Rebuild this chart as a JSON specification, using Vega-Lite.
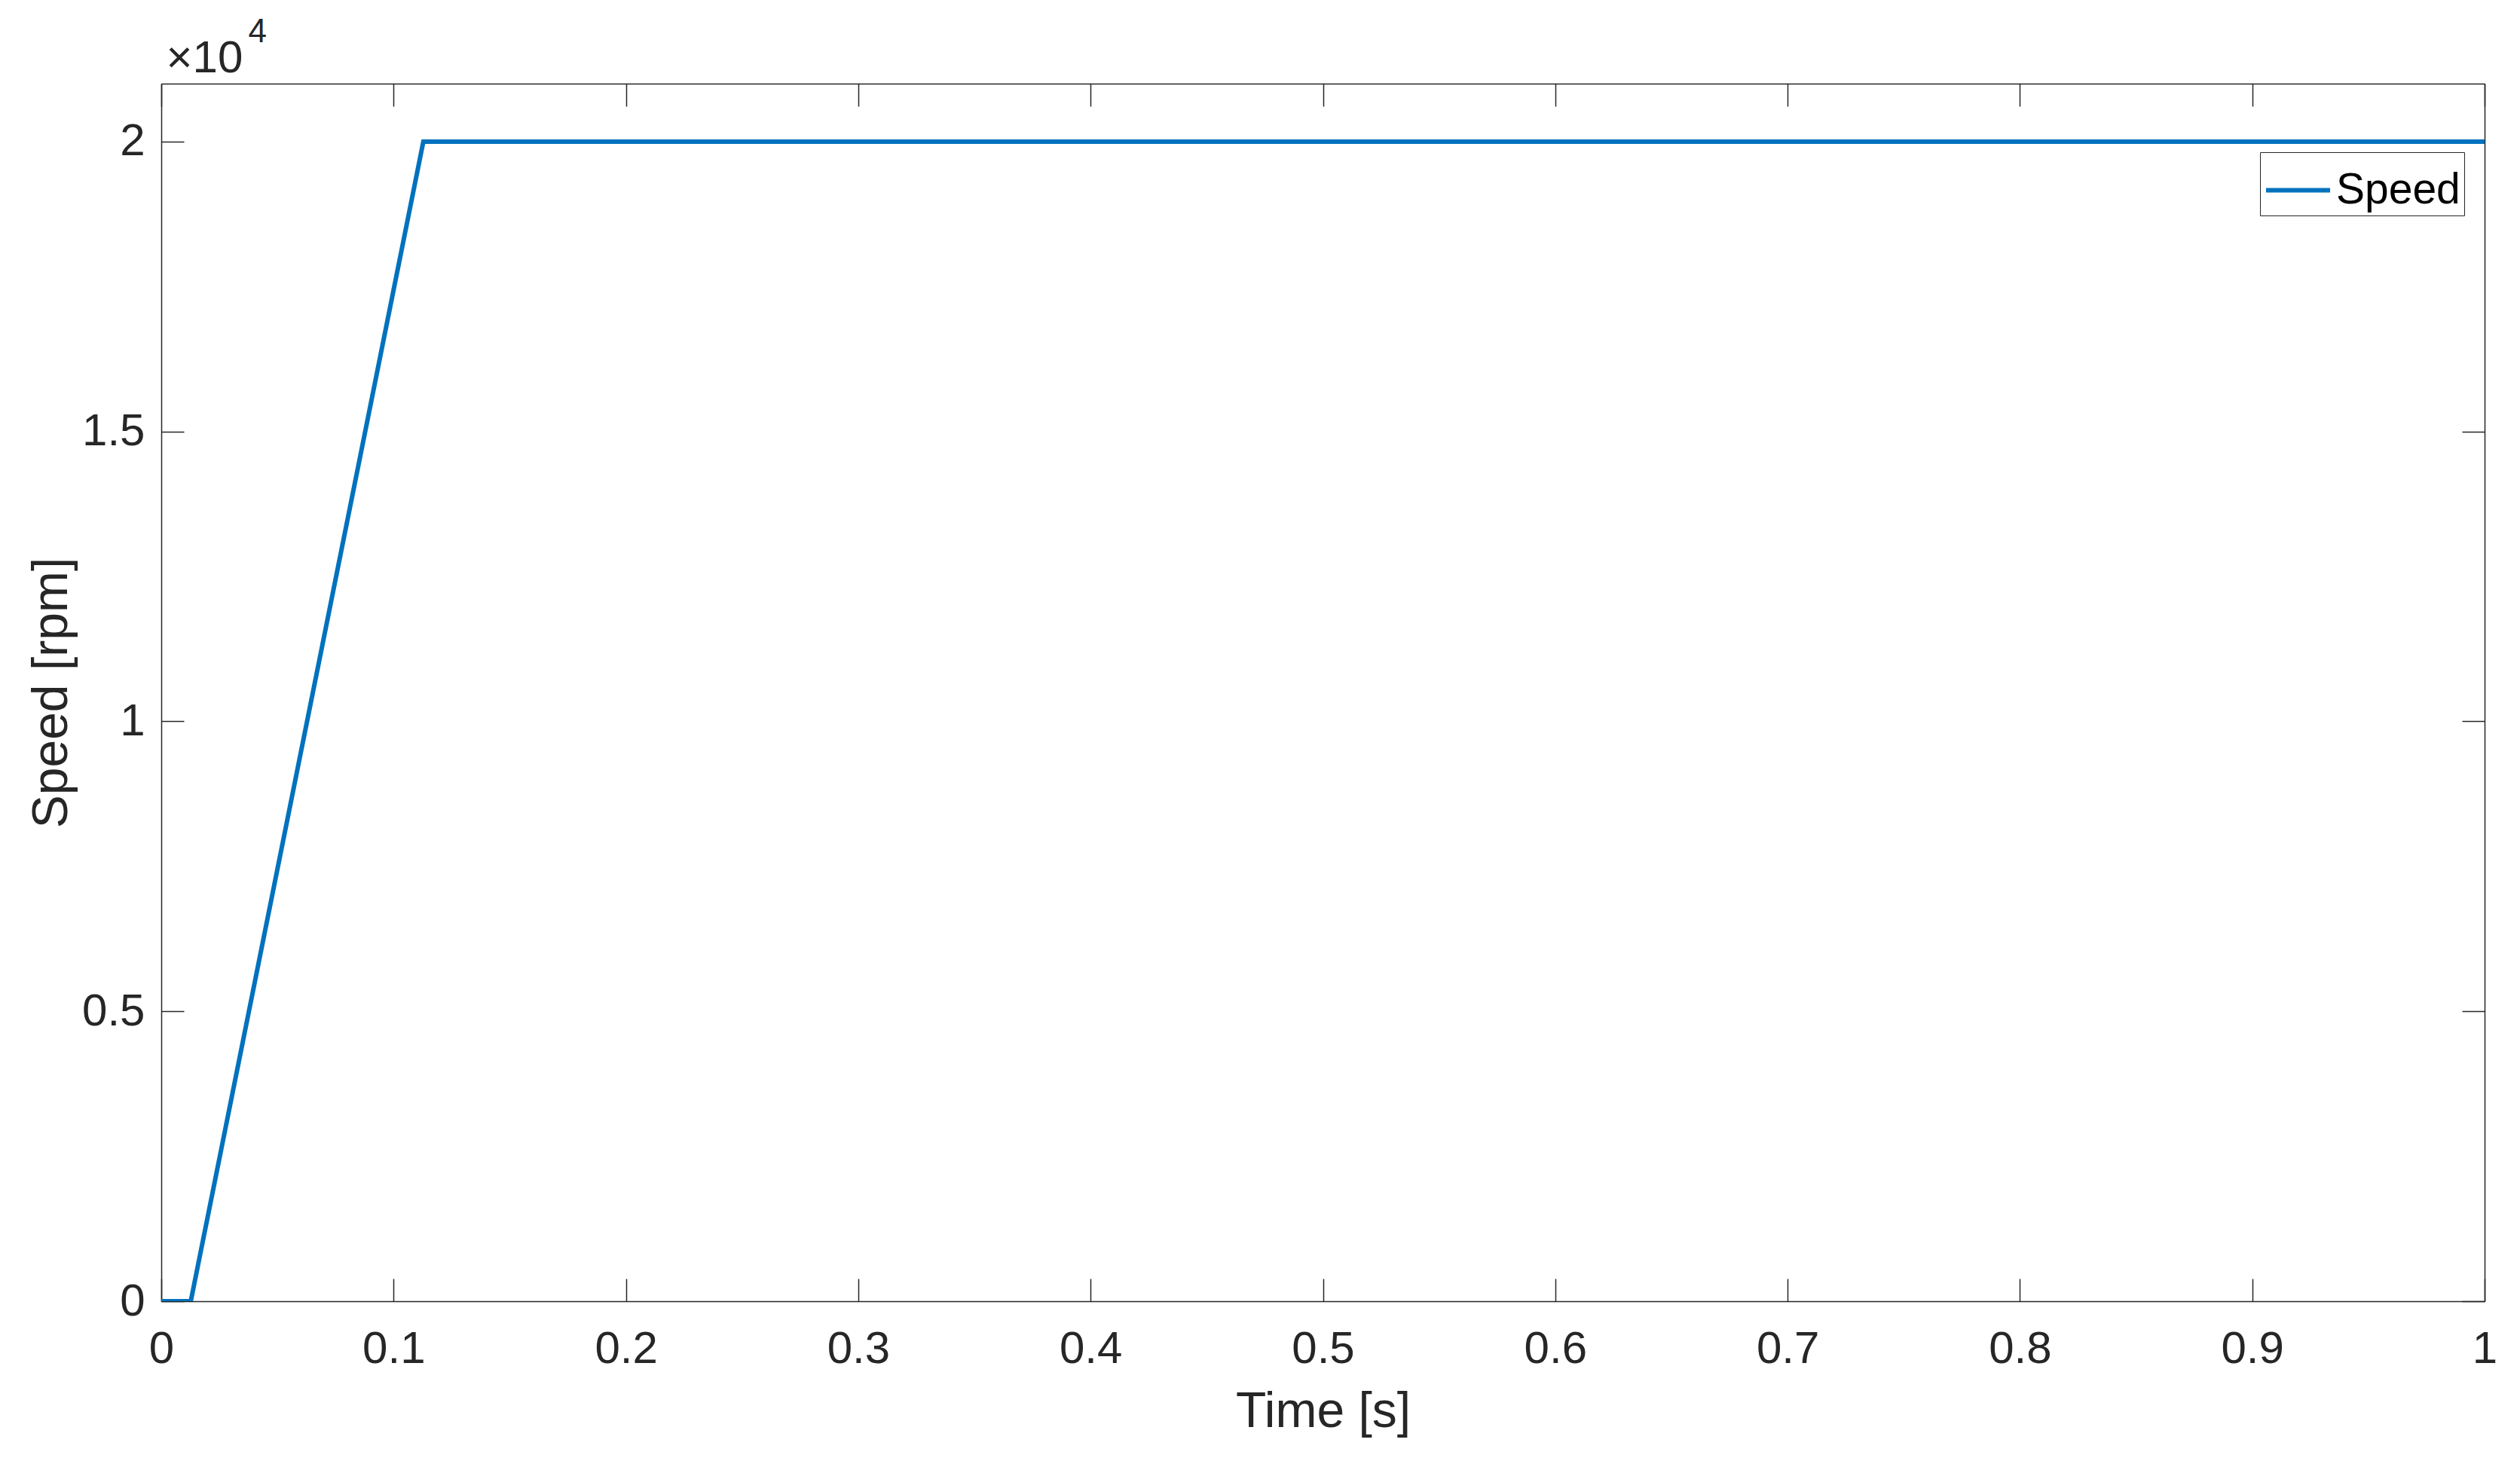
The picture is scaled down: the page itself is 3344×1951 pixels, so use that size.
{
  "$schema": "https://vega.github.io/schema/vega-lite/v6.json",
  "width": 3083,
  "height": 1616,
  "autosize": {"type": "none"},
  "padding": {"left": 214, "top": 111, "right": 47, "bottom": 224},
  "background": "white",
  "config": {
    "view": {"stroke": null},
    "axis": {
      "domainColor": "#262626",
      "domainWidth": 1.5,
      "tickColor": "#262626",
      "tickWidth": 1.5,
      "tickSize": -30,
      "grid": false,
      "labelFont": "Liberation Sans",
      "labelFontSize": 60,
      "labelColor": "#262626",
      "titleFont": "Liberation Sans",
      "titleFontSize": 66,
      "titleFontWeight": "normal",
      "titleColor": "#262626"
    }
  },
  "data": {
    "values": [
      {"t": 0, "speed": 0, "series": "Speed"},
      {"t": 0.0127, "speed": 0, "series": "Speed"},
      {"t": 0.1128, "speed": 20000, "series": "Speed"},
      {"t": 1, "speed": 20000, "series": "Speed"}
    ]
  },
  "layer": [
    {
      "mark": {"type": "line", "strokeWidth": 6, "clip": true},
      "encoding": {
        "x": {
          "field": "t",
          "type": "quantitative",
          "scale": {"domain": [0, 1], "nice": false, "zero": false},
          "axis": {
            "orient": "bottom",
            "title": "Time [s]",
            "values": [0, 0.1, 0.2, 0.3, 0.4, 0.5, 0.6, 0.7, 0.8, 0.9, 1],
            "format": "~g",
            "labelBaseline": "alphabetic",
            "labelPadding": 111,
            "labelFlush": false,
            "labelOverlap": false,
            "titleBaseline": "alphabetic",
            "titleX": 1541.5,
            "titleY": 166
          }
        },
        "y": {
          "field": "speed",
          "type": "quantitative",
          "scale": {"domain": [0, 21000], "nice": false, "zero": false},
          "axis": {
            "orient": "left",
            "title": "Speed [rpm]",
            "values": [0, 5000, 10000, 15000, 20000],
            "labelExpr": "format(datum.value / 10000, '~g')",
            "labelBaseline": "middle",
            "labelPadding": 52,
            "labelFlush": false,
            "labelOverlap": false,
            "titleAngle": -90,
            "titleAlign": "center",
            "titleBaseline": "alphabetic",
            "titleX": -126,
            "titleY": 808
          }
        },
        "color": {
          "field": "series",
          "type": "nominal",
          "scale": {"domain": ["Speed"], "range": ["#0072BD"]},
          "legend": {
            "orient": "none",
            "legendX": 2785,
            "legendY": 91,
            "title": null,
            "strokeColor": "#262626",
            "fillColor": "white",
            "padding": 5,
            "symbolType": "stroke",
            "symbolSize": 7225,
            "symbolStrokeWidth": 6,
            "labelFont": "Liberation Sans",
            "labelFontSize": 57,
            "labelColor": "black",
            "labelOffset": 5,
            "labelLimit": 0,
            "cornerRadius": 0
          }
        }
      }
    },
    {
      "mark": {"type": "line", "opacity": 0},
      "encoding": {
        "x": {
          "field": "t",
          "type": "quantitative",
          "axis": {
            "orient": "top",
            "title": "×10",
            "titleFontSize": 60,
            "titleAlign": "left",
            "titleBaseline": "alphabetic",
            "titleAngle": 0,
            "titleX": 6,
            "titleY": -16,
            "labels": false,
            "values": [0, 0.1, 0.2, 0.3, 0.4, 0.5, 0.6, 0.7, 0.8, 0.9, 1]
          }
        },
        "y": {
          "field": "speed",
          "type": "quantitative",
          "axis": {
            "orient": "right",
            "title": "4",
            "titleFontSize": 44,
            "titleAlign": "left",
            "titleBaseline": "alphabetic",
            "titleAngle": 0,
            "titleX": -2968,
            "titleY": -56,
            "labels": false,
            "values": [0, 5000, 10000, 15000, 20000]
          }
        }
      }
    }
  ],
  "resolve": {"axis": {"x": "independent", "y": "independent"}}
}
